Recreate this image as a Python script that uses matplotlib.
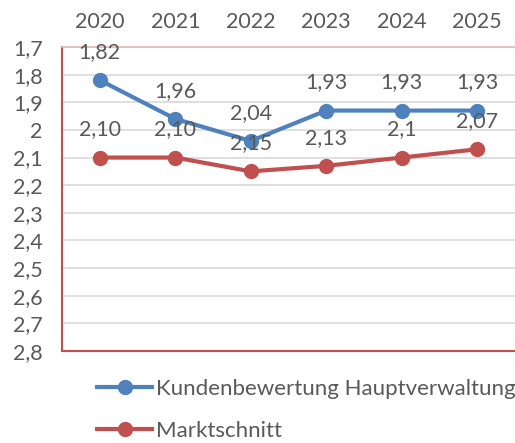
import matplotlib.pyplot as plt
import numpy as np

plt.rcParams['font.family'] = ['Lato', 'DejaVu Sans']

years = ['2020', '2021', '2022', '2023', '2024', '2025']
kunden = [1.82, 1.96, 2.04, 1.93, 1.93, 1.93]
kunden_labels = ['1,82', '1,96', '2,04', '1,93', '1,93', '1,93']
markt = [2.10, 2.10, 2.15, 2.13, 2.10, 2.07]
markt_labels = ['2,10', '2,10', '2,15', '2,13', '2,1', '2,07']
yticks = [1.7, 1.8, 1.9, 2.0, 2.1, 2.2, 2.3, 2.4, 2.5, 2.6, 2.7, 2.8]

blue = '#4F81BD'
red = '#C0504D'
grey = '#595959'
fs = 15.5

fig = plt.figure(figsize=(5.15, 4.43), dpi=100)
ax = fig.add_axes([62 / 515, 92 / 443, 453 / 515, 304 / 443])

x = np.arange(len(years))
ax.plot(x, kunden, color=blue, lw=3, marker='o', ms=10,
        label='Kundenbewertung Hauptverwaltung', zorder=3, clip_on=False)
ax.plot(x, markt, color=red, lw=3, marker='o', ms=10,
        label='Marktschnitt', zorder=3, clip_on=False)

# data labels above the points
for xi, v, s in zip(x, kunden, kunden_labels):
    ax.annotate(s, (xi, v), xytext=(0, 16), textcoords='offset points',
                ha='center', va='baseline', fontsize=fs, color=grey, zorder=5)
for xi, v, s in zip(x, markt, markt_labels):
    ax.annotate(s, (xi, v), xytext=(0, 16), textcoords='offset points',
                ha='center', va='baseline', fontsize=fs, color=grey, zorder=5)

ax.set_xlim(-0.5, 5.5)
ax.set_ylim(2.8, 1.7)
ax.set_yticks(yticks)
ax.set_yticklabels([('%g' % t).replace('.', ',') for t in yticks])
ax.set_xticks(x)
ax.set_xticklabels(years)
ax.xaxis.tick_top()
ax.tick_params(axis='both', length=0, labelsize=fs, labelcolor=grey)
ax.tick_params(axis='y', pad=14)
ax.tick_params(axis='x', pad=11)

ax.grid(axis='y', color='#D9D9D9', lw=1.2)
ax.set_axisbelow(True)
ax.spines['right'].set_visible(False)
ax.spines['top'].set_color('#E6B9B8')
ax.spines['top'].set_linewidth(1.2)
ax.spines['left'].set_color(red)
ax.spines['left'].set_linewidth(1.5)
ax.spines['bottom'].set_color(red)
ax.spines['bottom'].set_linewidth(1.5)

fig.legend(loc='upper left', bbox_to_anchor=(88 / 515, 1 - 370 / 443),
           frameon=False, fontsize=fs + 0.5, labelcolor=grey, handlelength=2.5,
           handletextpad=0.15, labelspacing=1.0, borderaxespad=0)

fig.savefig('out.png', dpi=100)
